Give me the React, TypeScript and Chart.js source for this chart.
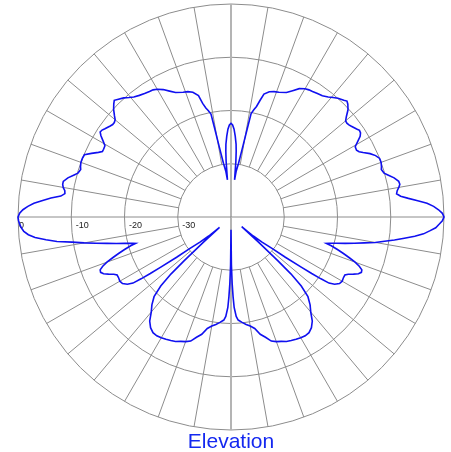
import React, { useEffect, useRef } from 'react';
import { Chart, registerables } from 'chart.js';

Chart.register(...registerables);

const TITLE = 'Elevation';
const RING_VALUES = [0, -10, -20, -30];
const RING_LABELS = ['0', '-10', '-20', '-30'];
const DB_MIN = -40;
const DB_MAX = 0;
const SPOKE_STEP_DEG = 10;
const ANGLE_STEP_DEG = 0.5;

// [angle in degrees clockwise from top, gain in dB]
const RIGHT_HALF: [number, number][] = [
  [0, -22.4], [1, -22.7], [2, -23.5], [3, -24.8], [4, -26.3], [4.5, -27.6], [5, -29.5], [5.5, -33.0],
  [6.5, -31.3], [8, -29.8], [9.5, -26.6], [10.5, -22.8], [11, -20.2], [12, -19.4], [13, -18.7], [14, -17.4],
  [15, -16.1], [17, -15.4], [19, -15.1], [21, -14.9], [24, -14.4], [26, -13.6], [28, -12.7], [30, -12.2],
  [31.5, -12.0], [33, -11.9], [35, -11.7], [37, -11.5], [39, -11.0], [40.5, -10.5], [42, -10.0], [44, -9.5],
  [45, -9.2], [46, -9.5], [47.5, -10.2], [49, -11.3], [50, -11.9], [51, -12.0], [52, -11.9], [53, -11.7],
  [55, -11.2], [56, -10.9], [57, -11.0], [58, -11.4], [59.5, -12.5], [60.5, -13.2], [62, -13.3], [63, -13.0],
  [64, -12.4], [65.5, -11.3], [67, -10.5], [68.5, -10.0], [70, -10.0], [71.5, -10.2], [72.5, -10.4], [74, -10.1],
  [75, -9.5], [76.5, -8.5], [78, -7.8], [79, -7.7], [80, -8.0], [81, -8.4], [82, -8.6], [83, -7.9],
  [84, -6.5], [85, -4.8], [86, -3.1], [87, -1.9], [88, -1.0], [89, -0.3],
  [90, 0], [91, -0.3], [92, -0.9], [93, -1.5], [94, -2.6], [95, -3.7], [96, -5.3], [97, -7.2],
  [98, -9.0], [99, -10.8], [100, -12.5], [101, -14.5], [102, -16.3], [103, -18.0], [104, -19.6], [105, -20.9],
  [105.5, -21.4], [106, -20.4], [107, -19.1], [108, -17.8], [109, -16.5], [110, -15.2], [111, -14.2], [112, -13.5],
  [113, -13.4], [114, -13.8], [115, -14.6], [116, -15.5], [117, -16.0], [118.5, -16.0], [120, -15.9], [121.5, -16.1],
  [123, -16.8], [124, -17.8], [124.5, -19.5], [125, -21.5], [125.5, -23.8], [126.5, -27.3], [127.5, -30.3], [129, -32.5],
  [130.5, -34.5], [132, -37.3],
  [132.5, -33.0], [133, -28.0], [133.5, -24.5], [134.5, -21.5], [136, -19.2], [138, -17.8], [140, -16.7], [142, -15.2],
  [144, -14.3], [146, -13.8], [148, -13.7], [150, -13.8], [152, -14.0], [154, -14.2], [156, -14.4], [158, -14.8],
  [160, -15.1], [162, -15.5], [164, -16.5], [166, -17.3], [168, -18.6], [170, -19.2], [172, -19.6], [174, -20.1],
  [176, -20.6], [177, -21.3], [178, -23.0], [178.5, -25.0], [179, -27.5], [179.5, -31.0], [180, -37.6],
];

const LEFT_HALF: [number, number][] = [
  [180.5, -31.0], [181, -27.5], [181.5, -25.0], [182, -23.0], [183, -21.3], [184, -20.6], [186, -20.1], [188, -19.6],
  [190, -19.2], [192, -18.6], [194, -17.3], [196, -16.5], [198, -15.5], [200, -15.1], [202, -14.8], [204, -14.4],
  [206, -14.2], [208, -14.0], [210, -13.8], [212, -13.7], [214, -13.8], [216, -14.3], [218, -15.2], [220, -16.7],
  [222, -17.8], [224, -19.2], [225.5, -21.5], [226.5, -24.5], [227, -28.0], [227.5, -33.0], [228, -37.1],
  [229.5, -34.5], [231, -32.5], [232.5, -30.3], [233.5, -27.3], [234.5, -23.8], [235, -21.5], [235.5, -19.5], [236, -17.8],
  [237, -16.8], [238.5, -16.1], [240, -15.9], [241.5, -16.0], [243, -16.0], [244, -15.5], [245, -14.6], [246, -13.8],
  [247, -13.4], [248, -13.5], [249, -14.2], [250, -15.2], [251, -16.5], [252, -17.8], [253, -19.1], [254, -20.4],
  [254.5, -21.4], [255, -20.9], [256, -19.5], [257, -17.9], [258, -16.2], [259, -14.2], [260, -12.0], [261, -9.8],
  [262, -7.0], [263, -5.0], [264, -3.0], [265, -1.8], [266, -1.0], [267, -0.6], [268, -0.3], [269, -0.1],
  [270, 0], [271, -0.3], [272, -0.9], [273, -1.8], [274, -2.9], [275, -4.5], [276, -6.0], [277, -7.8],
  [278, -8.5], [279, -8.4], [280, -8.0], [281, -7.8], [282, -7.8], [283.5, -8.5], [285, -9.5], [286, -10.1],
  [287.5, -10.4], [288.5, -10.2], [290, -10.0], [291.5, -10.0], [293, -10.1], [294.5, -11.2], [296, -12.3], [297, -12.9],
  [298, -12.9], [299.5, -12.8], [300.5, -12.2], [302, -11.2], [303, -10.7], [304, -10.8], [305, -11.1], [307, -11.6],
  [308, -11.8], [309, -11.8], [310, -11.6], [311, -11.0], [312.5, -10.1], [314, -9.4], [315, -9.0], [316, -9.3],
  [318, -9.9], [319.5, -10.5], [321, -11.0], [323, -11.4], [325, -11.7], [327, -11.9], [328.5, -12.0], [330, -12.3],
  [332, -12.9], [334, -13.7], [336, -14.4], [339, -14.9], [341, -15.1], [343, -15.5], [345, -16.4], [346, -18.0],
  [347, -19.0], [348, -19.6], [349, -20.3], [349.5, -22.8], [350.5, -26.6], [352, -29.8], [353.5, -31.3], [354.5, -33.0],
  [355, -29.5], [355.5, -27.6], [356, -26.3], [357, -24.8], [358, -23.5], [359, -22.7],
];

const N_ANGLES = Math.round(360 / ANGLE_STEP_DEG);
const ANGLE_LABELS = Array.from({ length: N_ANGLES }, (_, i) => String(i * ANGLE_STEP_DEG));

function buildSeries(): (number | null)[] {
  const out: (number | null)[] = new Array(N_ANGLES).fill(null);
  for (const [a, v] of [...RIGHT_HALF, ...LEFT_HALF]) {
    out[Math.round(a / ANGLE_STEP_DEG) % N_ANGLES] = v;
  }
  return out;
}

const polarDecor = {
  id: 'polarDecor',
  beforeDatasetsDraw(chart: any) {
    const r = chart.scales.r;
    const ctx = chart.ctx as CanvasRenderingContext2D;
    ctx.save();
    for (let deg = 0; deg < 360; deg += SPOKE_STEP_DEG) {
      const idx = Math.round(deg / ANGLE_STEP_DEG);
      const cardinal = deg % 90 === 0;
      const vertical = deg % 180 === 0;
      const p0 = r.getPointPositionForValue(idx, cardinal ? DB_MIN : RING_VALUES[RING_VALUES.length - 1]);
      const p1 = r.getPointPositionForValue(idx, DB_MAX);
      ctx.beginPath();
      ctx.strokeStyle = vertical ? '#b4b4b4' : '#8c8c8c';
      ctx.lineWidth = vertical ? 2 : 1;
      ctx.moveTo(p0.x, p0.y);
      ctx.lineTo(p1.x, p1.y);
      ctx.stroke();
    }
    ctx.font = '9px Arial, "Liberation Sans", sans-serif';
    ctx.fillStyle = '#222222';
    ctx.textAlign = 'left';
    ctx.textBaseline = 'alphabetic';
    RING_VALUES.forEach((v, i) => {
      const d = r.getDistanceFromCenterForValue(v);
      ctx.fillText(RING_LABELS[i], r.xCenter - d + (v === 0 ? 1 : 4.5), r.yCenter + 10.5);
    });
    ctx.restore();
  },
  afterDraw(chart: any) {
    const r = chart.scales.r;
    const ctx = chart.ctx as CanvasRenderingContext2D;
    ctx.save();
    ctx.font = '21px Arial, "Liberation Sans", sans-serif';
    ctx.fillStyle = '#1428f0';
    ctx.textAlign = 'center';
    ctx.textBaseline = 'alphabetic';
    ctx.fillText(TITLE, r.xCenter, chart.height - 4);
    ctx.restore();
  },
};

export default function App() {
  const ref = useRef<HTMLCanvasElement | null>(null);
  useEffect(() => {
    if (!ref.current) return;
    const chart = new Chart(ref.current, {
      type: 'radar',
      data: {
        labels: ANGLE_LABELS,
        datasets: [
          {
            label: TITLE,
            data: buildSeries(),
            spanGaps: true,
            borderColor: '#1010f0',
            borderWidth: 1.6,
            pointRadius: 0,
            pointHoverRadius: 0,
            fill: false,
            tension: 0,
          } as any,
        ],
      },
      options: {
        animation: false,
        responsive: true,
        maintainAspectRatio: false,
        layout: { padding: { left: 18, right: 7, top: 4, bottom: 22 } },
        plugins: { legend: { display: false }, tooltip: { enabled: false }, title: { display: false } },
        scales: {
          r: {
            min: DB_MIN,
            max: DB_MAX,
            ticks: { display: false, stepSize: 10 },
            pointLabels: { display: false },
            angleLines: { display: false },
            grid: { circular: true, color: '#8c8c8c', lineWidth: 1 },
          },
        },
      },
      plugins: [polarDecor],
    });
    return () => chart.destroy();
  }, []);
  return (
    <div style={{ position: 'fixed', left: 0, top: 0, width: 451, height: 452, background: '#fff' }}>
      <canvas ref={ref} />
    </div>
  );
}
